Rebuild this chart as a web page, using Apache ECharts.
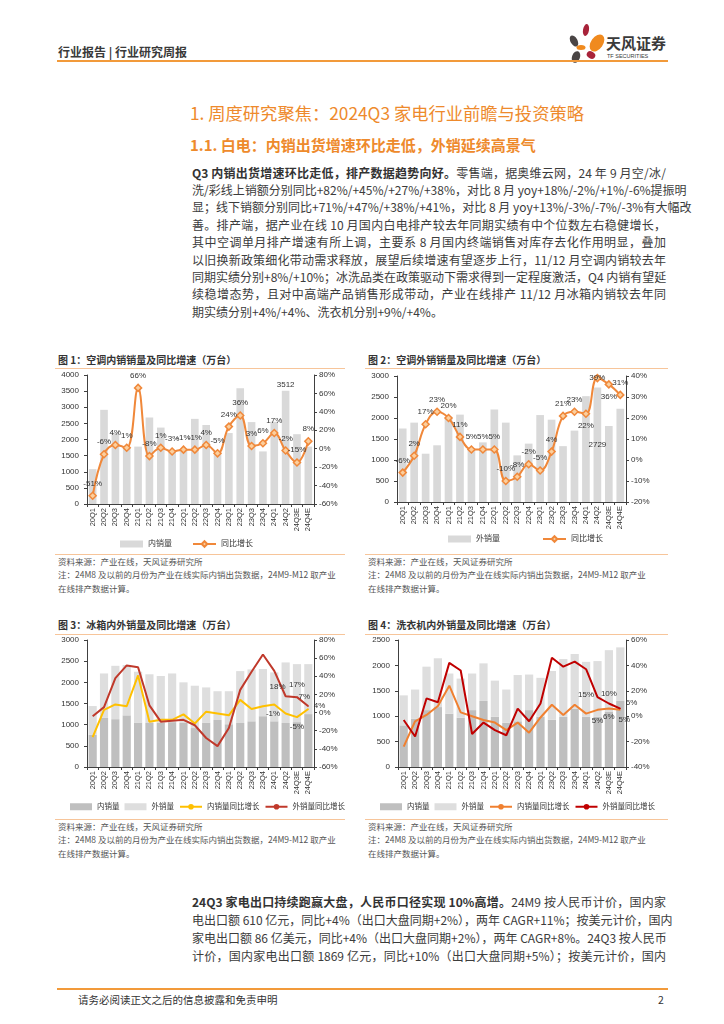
<!DOCTYPE html>
<html><head><meta charset="utf-8">
<script src="https://cdn.jsdelivr.net/npm/echarts/dist/echarts.min.js"></script>
<style>
html,body{margin:0;padding:0;background:#fff;}
#page{position:relative;width:724px;height:1024px;overflow:hidden;font-family:"Noto Sans CJK SC","Liberation Sans",sans-serif;color:#333;}
.abs{position:absolute;white-space:nowrap;}
.ln{position:absolute;left:192px;width:474px;height:17px;line-height:17px;font-size:12px;white-space:nowrap;text-align:justify;text-align-last:justify;color:#3c3c3c;}
.ln.last{text-align-last:left;}
.ln b{color:#333;}
.ctitle{position:absolute;font-size:10px;font-weight:bold;line-height:14px;color:#333;white-space:nowrap;}
.hl{position:absolute;height:1px;background:#F7C59A;}
.src{position:absolute;font-size:8.5px;line-height:12px;color:#555;white-space:nowrap;}
.chart{position:absolute;}
</style></head><body><div id="page">

<div class="abs" style="left:58px;top:44px;font-size:12px;line-height:16px;font-weight:bold;color:#3a3a3a;">行业报告 | 行业研究周报</div>
<svg class="abs" style="left:565px;top:22px;" width="42" height="44" viewBox="565 22 42 44">
  <ellipse cx="586" cy="30" rx="3" ry="6" fill="#A8233A" transform="rotate(10 586 30)"/>
  <ellipse cx="597" cy="43" rx="6" ry="9.5" fill="#F08A1E" transform="rotate(35 597 43)"/>
  <ellipse cx="574" cy="41" rx="3.5" ry="6" fill="#4A4545" transform="rotate(-30 574 41)"/>
  <ellipse cx="581" cy="47.5" rx="4.5" ry="2.5" fill="#F08A1E"/>
  <ellipse cx="591" cy="55" rx="4.5" ry="3.5" fill="#A8233A" transform="rotate(30 591 55)"/>
  <ellipse cx="576" cy="57" rx="4" ry="6" fill="#4A4545" transform="rotate(20 576 57)"/>
</svg>
<div class="abs" style="left:606px;top:34px;font-size:15px;line-height:18px;font-weight:bold;color:#3a3a3a;">天风证券</div>
<div class="abs" style="left:607px;top:53px;font-size:5.5px;line-height:7px;color:#3a3a3a;font-family:'Liberation Sans',sans-serif;">TF SECURITIES</div>
<div class="abs" style="left:57px;top:60px;width:611px;height:2px;background:#F29A3A;"></div>

<div class="abs" style="left:190px;top:102px;font-size:17.3px;line-height:22px;color:#EE8A2C;">1. 周度研究聚焦：2024Q3 家电行业前瞻与投资策略</div>
<div class="abs" style="left:190px;top:135px;font-size:15px;line-height:20px;font-weight:bold;color:#EE8A2C;">1.1. 白电：内销出货增速环比走低，外销延续高景气</div>

<div class="ln" style="top:163.5px"><b>Q3 内销出货增速环比走低，排产数据趋势向好。</b>零售端，据奥维云网，24 年 9 月空/冰/</div>
<div class="ln" style="top:180.9px">洗/彩线上销额分别同比+82%/+45%/+27%/+38%，对比 8 月 yoy+18%/-2%/+1%/-6%提振明</div>
<div class="ln" style="top:198.3px">显；线下销额分别同比+71%/+47%/+38%/+41%，对比 8 月 yoy+13%/-3%/-7%/-3%有大幅改</div>
<div class="ln" style="top:215.7px">善。排产端，据产业在线 10 月国内白电排产较去年同期实绩有中个位数左右稳健增长，</div>
<div class="ln" style="top:233.1px">其中空调单月排产增速有所上调，主要系 8 月国内终端销售对库存去化作用明显，叠加</div>
<div class="ln" style="top:250.5px">以旧换新政策细化带动需求释放，展望后续增速有望逐步上行，11/12 月空调内销较去年</div>
<div class="ln" style="top:267.9px">同期实绩分别+8%/+10%；冰洗品类在政策驱动下需求得到一定程度激活，Q4 内销有望延</div>
<div class="ln" style="top:285.3px">续稳增态势，且对中高端产品销售形成带动，产业在线排产 11/12 月冰箱内销较去年同</div>
<div class="ln last" style="top:302.7px">期实绩分别+4%/+4%、洗衣机分别+9%/+4%。</div>

<div class="ctitle" style="left:58px;top:353px;">图 1：空调内销销量及同比增速（万台）</div>
<div class="ctitle" style="left:368px;top:353px;">图 2：空调外销销量及同比增速（万台）</div>
<div class="hl" style="left:55px;top:368px;width:290px;"></div>
<div class="hl" style="left:365px;top:368px;width:303px;"></div>
<div class="hl" style="left:55px;top:554px;width:290px;"></div>
<div class="hl" style="left:365px;top:554px;width:303px;"></div>
<div class="src" style="left:58px;top:555px;">资料来源：产业在线，天风证券研究所</div>
<div class="src" style="left:58px;top:568px;">注：24M8 及以前的月份为产业在线实际内销出货数据，24M9-M12 取产业</div>
<div class="src" style="left:58px;top:582px;">在线排产数据计算。</div>
<div class="src" style="left:368px;top:555px;">资料来源：产业在线，天风证券研究所</div>
<div class="src" style="left:368px;top:568px;">注：24M8 及以前的月份为产业在线实际内销出货数据，24M9-M12 取产业</div>
<div class="src" style="left:368px;top:582px;">在线排产数据计算。</div>

<div class="ctitle" style="left:58px;top:618px;">图 3：冰箱内外销量及同比增速（万台）</div>
<div class="ctitle" style="left:368px;top:618px;">图 4：洗衣机内外销量及同比增速（万台）</div>
<div class="hl" style="left:55px;top:634px;width:290px;"></div>
<div class="hl" style="left:365px;top:634px;width:303px;"></div>
<div class="hl" style="left:55px;top:819px;width:290px;"></div>
<div class="hl" style="left:365px;top:819px;width:303px;"></div>
<div class="src" style="left:58px;top:820px;">资料来源：产业在线，天风证券研究所</div>
<div class="src" style="left:58px;top:833px;">注：24M8 及以前的月份为产业在线实际内销出货数据，24M9-M12 取产业</div>
<div class="src" style="left:58px;top:847px;">在线排产数据计算。</div>
<div class="src" style="left:368px;top:820px;">资料来源：产业在线，天风证券研究所</div>
<div class="src" style="left:368px;top:833px;">注：24M8 及以前的月份为产业在线实际内销出货数据，24M9-M12 取产业</div>
<div class="src" style="left:368px;top:847px;">在线排产数据计算。</div>

<div class="ln" style="top:892.5px"><b>24Q3 家电出口持续跑赢大盘，人民币口径实现 10%高增。</b>24M9 按人民币计价，国内家</div>
<div class="ln" style="top:910.5px">电出口额 610 亿元，同比+4%（出口大盘同期+2%），两年 CAGR+11%；按美元计价，国内</div>
<div class="ln" style="top:928.5px">家电出口额 86 亿美元，同比+4%（出口大盘同期+2%），两年 CAGR+8%。24Q3 按人民币</div>
<div class="ln" style="top:946.5px">计价，国内家电出口额 1869 亿元，同比+10%（出口大盘同期+5%）；按美元计价，国内</div>

<div class="abs" style="left:57px;top:988px;width:611px;height:1.5px;background:#F29A3A;"></div>
<div class="abs" style="left:78px;top:993px;font-size:10.5px;line-height:14px;color:#333;">请务必阅读正文之后的信息披露和免责申明</div>
<div class="abs" style="left:658px;top:993px;font-size:10.5px;line-height:14px;color:#333;">2</div>

<div id="c1" class="chart" style="left:55px;top:365px;width:290px;height:187px;"></div>
<div id="c2" class="chart" style="left:365px;top:365px;width:290px;height:187px;"></div>
<div id="c3" class="chart" style="left:55px;top:630px;width:300px;height:188px;"></div>
<div id="c4" class="chart" style="left:365px;top:630px;width:300px;height:188px;"></div>
</div>
<script>
// ---- data ----
const quarters = ['20Q1','20Q2','20Q3','20Q4','21Q1','21Q2','21Q3','21Q4','22Q1','22Q2','22Q3','22Q4','23Q1','23Q2','23Q3','23Q4','24Q1','24Q2','24Q3E','24Q4E'];
// 图1 空调内销
const acDomVol = [1080,2920,2210,1750,1780,2680,2370,1620,1660,2640,2450,1580,2200,3590,2540,1630,2550,3512,2165,1780];
const acDomYoy = [-51,-6,4,1,66,-8,1,-3,-1,-1,4,-5,24,36,3,6,17,-2,-15,8];
// 图2 空调外销
const acExpVol = [1750,1890,1150,1350,2030,2080,1230,1420,2200,1890,1110,1390,2070,1960,1330,1700,2520,2729,1810,2220];
const acExpYoy = [-6,2,17,23,20,11,5,5,5,-10,-8,-2,-5,4,21,23,22,39,36,31];
// 图3 冰箱
const frDomVol = [760,1160,1130,1220,1050,1040,1050,1060,1040,920,1050,1110,1010,1040,1080,1200,1080,1040,1060,1250];
const frExpVol = [680,1050,1260,1190,1200,1150,1100,1150,960,1000,830,680,780,1225,1225,1115,1155,1430,1370,1180];
const frDomYoy = [-27,3,9,7,41,-10,-8,-8,-2,-12,1,-1,-3,14,4,7,9,-1,-5,4];
const frExpYoy = [-4,6,38,52,50,8,-10,-9,-8,-14,-28,-37,-17,25,45,64,46,18,17,7];
// 图4 洗衣机
const wmDomVol = [820,950,1120,1180,1050,970,1120,1300,990,870,900,1120,990,930,990,1150,990,990,1090,1300];
const wmExpVol = [590,575,855,960,790,770,720,740,710,655,910,700,765,960,1135,1075,1080,1095,1210,1055];
const wmDomYoy = [-24,-4,1,8,24,3,0,-3,-5,-11,-5,-13,-1,9,1,9,2,5,6,5];
const wmExpYoy = [-3,-16,14,11,42,36,-14,-5,-11,-15,6,-4,10,46,39,43,37,15,10,6];

// ---- styling ----
const FONT = "'Liberation Sans','Noto Sans CJK SC',sans-serif";
const AX = '#404040';
function xAxis(){
  return {type:'category',data:quarters,
    axisLine:{show:true,lineStyle:{color:AX,width:1}},
    axisTick:{show:true,length:3,lineStyle:{color:AX}},
    axisLabel:{rotate:90,interval:0,fontSize:7.5,color:'#333',fontFamily:FONT,margin:4}};
}
function yAxis(min,max,interval,pct,pos){
  return {type:'value',position:pos,min:min,max:max,interval:interval,
    splitLine:{show:false},
    axisLine:{show:true,lineStyle:{color:AX}},
    axisTick:{show:true,length:3,lineStyle:{color:AX}},
    axisLabel:{fontSize:8,color:'#333',fontFamily:FONT,margin:pct?5:8,
      formatter:pct? (v => String(v) + '%') : (v => String(v))}};
}
const pctFmt = p => p.value + '%';
function withLabels(vals, over, extra){
  return vals.map((v,i)=> over[i] ? Object.assign({value:v,label:Object.assign({show:true},over[i])}, extra||{}) : v);
}
const lblBase = {fontSize:8,color:'#333',fontFamily:FONT,formatter:pctFmt};

// 图1
(function(){
  const ORANGE = '#F0883A';
  const ch = echarts.init(document.getElementById('c1'));
  ch.setOption({
    animation:false,
    grid:{left:32,right:31,top:10,bottom:48},
    legend:{left:65,top:175,padding:0,itemWidth:23,itemHeight:7,itemGap:20,
      textStyle:{fontSize:8,color:'#333',fontFamily:FONT},
      data:[{name:'内销量',icon:'rect'},{name:'同比增长'}]},
    xAxis:xAxis(),
    yAxis:[yAxis(0,4000,500,false,'left'),yAxis(-60,80,20,true,'right')],
    series:[
      {type:'bar',name:'内销量',data:withLabels(acDomVol,{17:{position:'top',distance:2,fontSize:8,color:'#333',fontFamily:FONT}}),
        barCategoryGap:'33%',itemStyle:{color:'#D9D9D9'}},
      {type:'line',name:'同比增长',yAxisIndex:1,data:acDomYoy,smooth:0.4,
        symbol:'diamond',symbolSize:7,
        lineStyle:{color:ORANGE,width:2},
        itemStyle:{color:'#FBCF9E',borderColor:ORANGE,borderWidth:1.5},
        label:Object.assign({show:true,position:'top',distance:4},lblBase)}
    ]
  });
})();

// 图2
(function(){
  const ORANGE = '#F0883A';
  const ch = echarts.init(document.getElementById('c2'));
  ch.setOption({
    animation:false,
    grid:{left:32,right:29,top:11,bottom:50},
    legend:{left:83,top:170,padding:0,itemWidth:23,itemHeight:7,itemGap:42,
      textStyle:{fontSize:8,color:'#333',fontFamily:FONT},
      data:[{name:'外销量',icon:'rect'},{name:'同比增长'}]},
    xAxis:xAxis(),
    yAxis:[yAxis(0,3000,500,false,'left'),yAxis(-20,40,10,true,'right')],
    series:[
      {type:'bar',name:'外销量',data:withLabels(acExpVol,{17:{position:'inside',fontSize:8,color:'#333',fontFamily:FONT}}),
        barCategoryGap:'33%',itemStyle:{color:'#D9D9D9'}},
      {type:'line',name:'同比增长',yAxisIndex:1,
        data:withLabels(acExpYoy,{16:{position:'bottom'},17:{position:'inside'},18:{position:'bottom'}}),
        smooth:0.4,symbol:'diamond',symbolSize:7,
        lineStyle:{color:ORANGE,width:2},
        itemStyle:{color:'#FBCF9E',borderColor:ORANGE,borderWidth:1.5},
        label:Object.assign({show:true,position:'top',distance:4},lblBase)}
    ]
  });
})();

function stackedChart(id, grid, legendLeft, dom, exp, domYoy, expYoy, lmin, lmax, lint, rmin, rmax, rint, cDomLine, cExpLine, domOver, expOver){
  const ch = echarts.init(document.getElementById(id));
  const pt = {symbol:'circle',symbolSize:1};
  ch.setOption({
    animation:false,
    grid:grid,
    legend:{left:legendLeft,top:173,padding:0,width:290,itemWidth:22,itemHeight:7,itemGap:5,
      textStyle:{fontSize:7.5,color:'#333',fontFamily:FONT},
      data:[{name:'内销量',icon:'rect'},{name:'外销量',icon:'rect'},{name:'内销量同比增长'},{name:'外销量同比增长'}]},
    xAxis:xAxis(),
    yAxis:[yAxis(lmin,lmax,lint,false,'left'),yAxis(rmin,rmax,rint,true,'right')],
    series:[
      {type:'bar',name:'内销量',stack:'v',data:dom,barCategoryGap:'28%',itemStyle:{color:'#BFBFBF'}},
      {type:'bar',name:'外销量',stack:'v',data:exp,itemStyle:{color:'#DEDEDE'}},
      {type:'line',name:'内销量同比增长',yAxisIndex:1,data:withLabels(domYoy,domOver,pt),symbol:'none',
        lineStyle:{color:cDomLine,width:2},itemStyle:{color:cDomLine},
        label:Object.assign({show:false},lblBase)},
      {type:'line',name:'外销量同比增长',yAxisIndex:1,data:withLabels(expYoy,expOver,pt),symbol:'none',
        lineStyle:{color:cExpLine,width:2},itemStyle:{color:cExpLine},
        label:Object.assign({show:false},lblBase)}
    ]
  });
}

stackedChart('c3',{left:32,right:41,top:10,bottom:51},15,frDomVol,frExpVol,frDomYoy,frExpYoy,
  0,3000,500,-60,80,20,'#FFC000','#C0392B',
  {17:{position:'left'},18:{position:'bottom'},19:{position:'right',offset:[0,-3]}},
  {17:{position:'top',offset:[-8,0]},18:{position:'top',distance:8},19:{position:'top',offset:[-4,0]}});

stackedChart('c4',{left:33,right:39,top:10,bottom:51},15,wmDomVol,wmExpVol,wmDomYoy,wmExpYoy,
  0,2500,500,-40,60,20,'#F08030','#C00000',
  {17:{position:'bottom',distance:6},18:{position:'bottom',distance:4},19:{position:'bottom',offset:[4,0]}},
  {17:{position:'left',offset:[2,-2]},18:{position:'top',distance:5},19:{position:'right',offset:[0,-6]}});
</script>
</body></html>
